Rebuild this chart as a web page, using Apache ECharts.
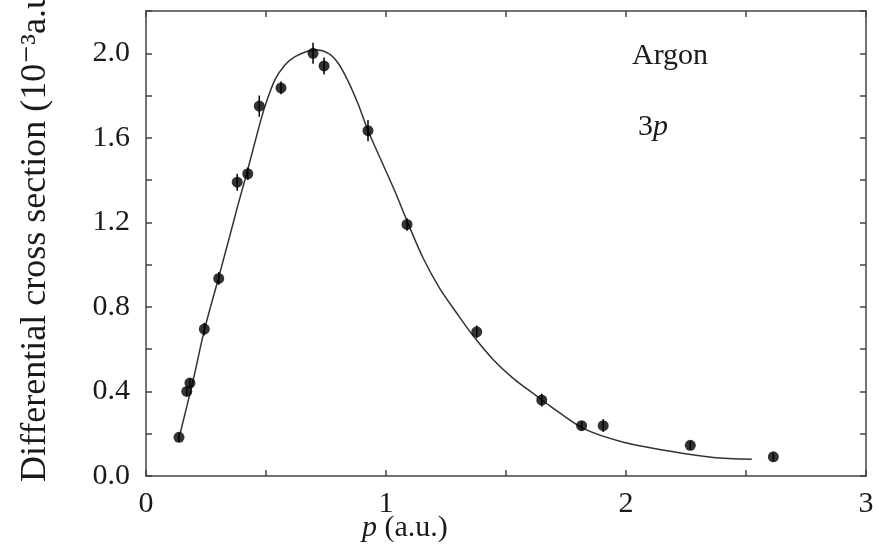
<!DOCTYPE html>
<html>
<head>
<meta charset="utf-8">
<script src="https://cdn.jsdelivr.net/npm/echarts@6/dist/echarts.min.js"></script>
<style>
  html, body { margin: 0; padding: 0; background: #fff; }
  #chart { width: 879px; height: 558px; }
</style>
</head>
<body>
<div id="chart"></div>
<script>
// Measured momentum distribution of Argon 3p (points with error bars)
var pData   = [0.1375, 0.17, 0.183, 0.243, 0.303, 0.38, 0.424, 0.472, 0.5625, 0.696, 0.742, 0.925, 1.0875, 1.378, 1.649, 1.815, 1.905, 2.268, 2.614];
var xsData  = [0.183, 0.40, 0.44, 0.695, 0.935, 1.39, 1.43, 1.75, 1.836, 2.00, 1.94, 1.634, 1.19, 0.682, 0.359, 0.238, 0.238, 0.145, 0.091];
var xsError = [0.02, 0.02, 0.02, 0.03, 0.03, 0.04, 0.03, 0.05, 0.03, 0.05, 0.04, 0.05, 0.03, 0.03, 0.03, 0.02, 0.03, 0.02, 0.02];

// Theoretical curve
var curveP = [0.142, 0.2, 0.243, 0.303, 0.357, 0.385, 0.424, 0.468, 0.496, 0.5375, 0.579, 0.621, 0.676, 0.711, 0.76, 0.801, 0.843, 0.885, 0.924, 0.982, 1.0375, 1.09, 1.155, 1.225, 1.295, 1.364, 1.447, 1.53, 1.628, 1.683, 1.822, 1.989, 2.197, 2.364, 2.524];
var curveV = [0.2, 0.47, 0.69, 0.94, 1.17, 1.29, 1.45, 1.64, 1.75, 1.875, 1.945, 1.984, 2.011, 2.016, 2.0, 1.953, 1.866, 1.756, 1.637, 1.488, 1.346, 1.2, 1.03, 0.885, 0.77, 0.662, 0.55, 0.462, 0.378, 0.332, 0.225, 0.16, 0.115, 0.088, 0.079];

// Axis ranges and label text
var xMin = 0, xMax = 3, xStep = 0.5;
var yMin = 0, yMax = 2.2, yStep = 0.2;
var yTitle = 'Differential cross section (10\u207B\u00B3a.u.)';
var xTitleVar = 'p', xTitleUnit = ' (a.u.)';
var gasLabel = 'Argon';
var shellN = '3', shellL = 'p';

var points = pData.map(function (p, i) { return [p, xsData[i]]; });
var bars = pData.map(function (p, i) { return [p, xsData[i], xsError[i]]; });
var curve = curveP.map(function (p, i) { return [p, curveV[i]]; });

var serif = '"Liberation Serif", "DejaVu Serif", serif';
var ink = '#1a1a1a';
var frame = '#444';

function axisBase(extra) {
  var base = {
    type: 'value',
    axisLine: { show: true, onZero: false, lineStyle: { color: frame, width: 1.5 } },
    axisTick: { show: true, inside: true, length: 6, lineStyle: { color: frame, width: 1.5 } },
    splitLine: { show: false }
  };
  for (var k in extra) base[k] = extra[k];
  return base;
}

var chart = echarts.init(document.getElementById('chart'), null, { renderer: 'canvas' });

chart.setOption({
  backgroundColor: '#fff',
  animation: false,
  grid: { left: 146, right: 13, top: 11, bottom: 82 },
  xAxis: [
    axisBase({
      min: xMin, max: xMax, interval: xStep, position: 'bottom',
      axisLabel: {
        show: true, margin: 13, color: ink, fontFamily: serif, fontSize: 30,
        formatter: function (v) { return Math.abs(v - Math.round(v)) < 1e-9 ? String(Math.round(v)) : ''; }
      }
    }),
    axisBase({ min: xMin, max: xMax, interval: xStep, position: 'top', axisLabel: { show: false } })
  ],
  yAxis: [
    axisBase({
      min: yMin, max: yMax, interval: yStep, position: 'left',
      axisLabel: {
        show: true, margin: 16, color: ink, fontFamily: serif, fontSize: 30,
        formatter: function (v) {
          var k = Math.round(v * 10);
          return (k % 4 === 0 && v <= 2.0 + 1e-9) ? v.toFixed(1) : '';
        }
      }
    }),
    axisBase({ min: yMin, max: yMax, interval: yStep, position: 'right', axisLabel: { show: false } })
  ],
  graphic: [
    {
      type: 'text', x: 36, y: 482, rotation: Math.PI / 2,
      style: { text: yTitle, font: '36px ' + serif, fill: ink, textAlign: 'left', textVerticalAlign: 'middle' }
    },
    {
      type: 'text', x: 362, y: 528,
      style: {
        text: '{i|' + xTitleVar + '}{n|' + xTitleUnit + '}',
        textAlign: 'left', textVerticalAlign: 'middle',
        rich: {
          i: { font: 'italic 30px ' + serif, fill: ink },
          n: { font: '30px ' + serif, fill: ink }
        }
      }
    },
    {
      type: 'text', x: 632, y: 56,
      style: { text: gasLabel, font: '30px ' + serif, fill: ink, textAlign: 'left', textVerticalAlign: 'middle' }
    },
    {
      type: 'text', x: 638, y: 127,
      style: {
        text: '{n|' + shellN + '}{i|' + shellL + '}',
        textAlign: 'left', textVerticalAlign: 'middle',
        rich: {
          n: { font: '30px ' + serif, fill: ink },
          i: { font: 'italic 30px ' + serif, fill: ink }
        }
      }
    }
  ],
  series: [
    {
      type: 'line', data: curve, smooth: 0.3, showSymbol: false, symbol: 'none',
      lineStyle: { color: '#333', width: 1.5 }, z: 2
    },
    {
      type: 'custom', data: bars, z: 3,
      renderItem: function (params, api) {
        var x = api.value(0), y = api.value(1), e = api.value(2);
        var top = api.coord([x, y + e]);
        var bot = api.coord([x, y - e]);
        return {
          type: 'line',
          shape: { x1: top[0], y1: top[1], x2: bot[0], y2: bot[1] },
          style: { stroke: '#000', lineWidth: 1.5 }
        };
      }
    },
    {
      type: 'scatter', data: points, symbol: 'circle', symbolSize: 11,
      itemStyle: { color: '#000' }, z: 4
    }
  ]
});
</script>
</body>
</html>
